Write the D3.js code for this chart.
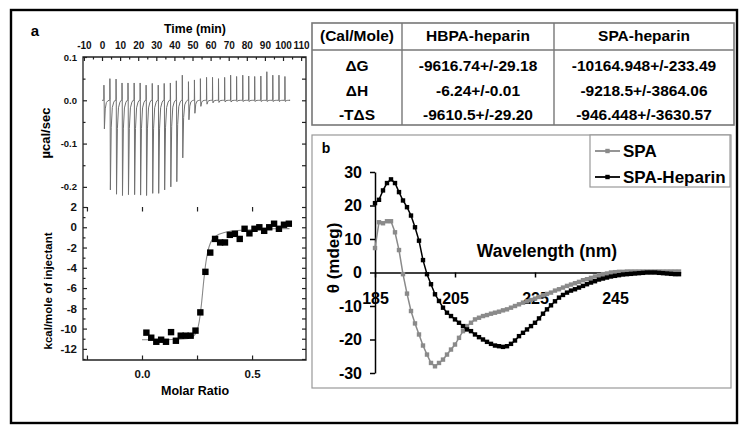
<!DOCTYPE html>
<html><head><meta charset="utf-8">
<script src="https://cdn.jsdelivr.net/npm/d3@7"></script>
<style>
body{margin:0;background:#fff}
svg{display:block;font-family:Arial,"Liberation Sans",sans-serif;font-weight:bold}
</style>
</head><body><svg id="c" width="750" height="433"></svg>
<script>
// ---------- Panel a : ITC raw thermogram ----------
const injTimes = [1.0, 4.3, 7.7, 11.0, 14.3, 17.7, 21.0, 24.3, 27.7, 31.0, 34.3, 37.7, 41.0, 44.3, 47.7, 51.0,
  54.3, 57.7, 61.0, 64.3, 67.7, 71.0, 74.3, 77.7, 81.0, 84.3, 87.7, 91.0, 94.3, 97.7, 101.0];
const injUp = [0.035, 0.05, 0.049, 0.04, 0.04, 0.04, 0.04, 0.035, 0.039, 0.035, 0.039, 0.04, 0.045, 0.058, 0.043, 0.047,
  0.05, 0.053, 0.053, 0.05, 0.053, 0.058, 0.055, 0.058, 0.056, 0.055, 0.056, 0.066, 0.058, 0.058, 0.055];
const injDown = [-0.066, -0.207, -0.217, -0.22, -0.218, -0.218, -0.219, -0.22, -0.215, -0.215, -0.207, -0.2, -0.188, -0.133, -0.045, -0.03,
  -0.014, -0.009, -0.006, -0.005, -0.004, -0.004, -0.003, -0.003, -0.003, -0.003, -0.003, -0.003, -0.003, -0.003, -0.003];
const timeTicks = [-10, 0, 10, 20, 30, 40, 50, 60, 70, 80, 90, 100, 110];
const powerTicks = [0.1, 0.0, -0.1, -0.2];

// ---------- Panel a : integrated heats ----------
const molarRatio = [0.020, 0.042, 0.065, 0.087, 0.109, 0.132, 0.154, 0.176, 0.198, 0.221, 0.243, 0.265, 0.288, 0.310, 0.332,
  0.355, 0.377, 0.399, 0.422, 0.444, 0.466, 0.488, 0.511, 0.533, 0.555, 0.578, 0.600, 0.622, 0.645, 0.667];
const heatPerInj = [-10.4, -10.9, -11.3, -11.1, -11.3, -10.35, -11.2, -10.7, -10.7, -10.7, -10.2, -8.4, -4.4, -2.5, -1.15,
  -1.5, -1.5, -0.75, -0.65, -1.15, -0.15, -0.6, -0.15, 0.0, -0.35, 0.0, 0.35, -0.15, 0.25, 0.35];
const fitRatio = [0.0, 0.05, 0.1, 0.15, 0.2, 0.22, 0.24, 0.25, 0.26, 0.27, 0.28, 0.29, 0.30, 0.31, 0.32, 0.34, 0.37, 0.40, 0.45, 0.50, 0.55, 0.60, 0.67];
const fitHeat = [-11.1, -11.1, -11.1, -11.05, -11.0, -10.9, -10.6, -10.2, -9.3, -7.6, -5.4, -3.5, -2.3, -1.6, -1.2, -0.8, -0.55, -0.4, -0.3, -0.22, -0.18, -0.15, -0.13];
const ratioTicks = [0.0, 0.5];
const heatTicks = [2, 0, -2, -4, -6, -8, -10, -12];

// ---------- Table ----------
const tableHeader = ["(Cal/Mole)", "HBPA-heparin", "SPA-heparin"];
const rowLabels = ["ΔG", "ΔH", "-TΔS"];
const hbpaValues = ["-9616.74+/-29.18", "-6.24+/-0.01", "-9610.5+/-29.20"];
const spaValues = ["-10164.948+/-233.49", "-9218.5+/-3864.06", "-946.448+/-3630.57"];

// ---------- Panel b : CD spectra ----------
const wavelength = d3.range(185, 262);
const spa = [7.3, 15, 14.7, 15.3, 15.3, 12, 6.7, -0.5, -6.3, -11.5, -15.2, -18.5, -21.8, -24.5, -27, -28, -27, -26, -24.5, -23,
  -21.5, -19.5, -17.5, -16, -15, -14, -13.5, -13, -12.7, -12.3, -12, -11.7, -11.3, -11, -10.5, -10, -9.5, -9, -8.6, -8.2,
  -7.8, -7.3, -6.8, -6.4, -6, -5.4, -5, -4.5, -4, -3.6, -3.2, -2.8, -2.3, -2, -1.6, -1.2, -0.8, -0.5, -0.3, 0,
  0.1, 0.2, 0.2, 0.3, 0.3, 0.3, 0.3, 0.3, 0.3, 0.3, 0.3, 0.3, 0.3, 0.3, 0.3, 0.3, 0.3];
const spaHeparin = [20.7, 21.7, 24.5, 26.7, 27.8, 26.7, 24, 21.5, 19.5, 17, 13.5, 9.5, 3.7, -0.5, -3.5, -6.5, -8.5, -10.5, -12, -13,
  -14, -15, -16, -17, -17.5, -18.5, -19.3, -20, -20.7, -21.3, -21.8, -22, -22.2, -22, -21.3, -20.3, -19, -18, -17, -16,
  -15, -13.7, -12.3, -11, -9.8, -8.6, -7.5, -6.7, -6, -5.4, -5, -4.5, -4, -3.5, -3, -2.6, -2.1, -1.8, -1.5, -1.2,
  -1, -0.8, -0.6, -0.5, -0.4, -0.3, -0.2, -0.1, 0, 0, 0, -0.1, -0.2, -0.3, -0.4, -0.5, -0.5];
const cdXTicks = [185, 205, 225, 245];
const cdYTicks = [30, 20, 10, 0, -10, -20, -30];
const seriesNames = ["SPA", "SPA-Heparin"];
const seriesColors = ["#8a8a8a", "#000000"];

const svg = d3.select("#c");

// outer frame
svg.append("rect").attr("x", 11).attr("y", 10).attr("width", 726).attr("height", 413)
  .attr("fill", "none").attr("stroke", "#000").attr("stroke-width", 2.4);

// ===== Panel a =====
const L = 83, R = 306, T1 = 57, B1 = 207, B2 = 360;
const xT = d3.scaleLinear().domain([-10.5, 112.7]).range([L, R]);
const yT = d3.scaleLinear().domain([-0.2465, 0.1]).range([B1, T1]);
const xM = d3.scaleLinear().domain([-0.268, 0.745]).range([L, R]);
const yM = d3.scaleLinear().domain([-13.1, 2]).range([B2, B1]);

svg.append("text").attr("x", 35).attr("y", 36).attr("font-size", 15).attr("text-anchor", "middle").text("a");

function styleAxis(g, fs) {
  g.select(".domain").remove();
  g.selectAll(".tick line").attr("stroke", "#222").attr("stroke-width", 1.2);
  g.selectAll(".tick text").attr("font-size", fs).attr("font-weight", "bold")
    .attr("font-family", "Arial, 'Liberation Sans', sans-serif").attr("fill", "#111");
}

// top thermogram axes
const gTop = svg.append("g").attr("transform", `translate(0,${T1})`)
  .call(d3.axisTop(xT).tickValues(timeTicks).tickSize(-4).tickPadding(8).tickFormat(d => d));
styleAxis(gTop, 10);
const gTopMinor = svg.append("g").attr("transform", `translate(0,${T1})`)
  .call(d3.axisTop(xT).tickValues(timeTicks.slice(0, -1).map((d, i) => (d + timeTicks[i + 1]) / 2)).tickSize(-2.5).tickFormat(""));
styleAxis(gTopMinor, 9);
const gTL = svg.append("g").attr("transform", `translate(${L},0)`)
  .call(d3.axisLeft(yT).tickValues(powerTicks).tickSize(-4).tickPadding(6).tickFormat(d => d.toFixed(1)));
styleAxis(gTL, 9.5);
const gTLm = svg.append("g").attr("transform", `translate(${L},0)`)
  .call(d3.axisLeft(yT).tickValues([0.05, -0.05, -0.15]).tickSize(-2.5).tickFormat(""));
styleAxis(gTLm, 9);
const gTR = svg.append("g").attr("transform", `translate(${R},0)`)
  .call(d3.axisRight(yT).tickValues(powerTicks.concat([0.05, -0.05, -0.15])).tickSize(-4).tickFormat(""));
styleAxis(gTR, 9);

// thermogram trace
const trace = [[0, 0]];
injTimes.forEach((t, i) => {
  const dn = injDown[i];
  trace.push([t, 0], [t + 0.06, injUp[i]], [t + 0.18, 0.002], [t + 0.32, dn], [t + 0.8, dn * 0.3],
    [t + 1.4, dn * 0.08], [t + 2.2, dn * 0.02], [t + 2.9, 0]);
});
trace.push([103.5, 0]);
svg.append("path").datum(trace)
  .attr("d", d3.line().x(d => xT(d[0])).y(d => yT(d[1])))
  .attr("fill", "none").attr("stroke", "#707070").attr("stroke-width", 1);

svg.append("text").attr("x", 195).attr("y", 33).attr("font-size", 12.3).attr("text-anchor", "middle").text("Time (min)");
svg.append("text").attr("transform", "translate(50,133) rotate(-90)").attr("font-size", 13)
  .attr("text-anchor", "middle").text("µcal/sec");

// bottom integrated-heat axes
const gMB = svg.append("g").attr("transform", `translate(0,${B2})`)
  .call(d3.axisBottom(xM).tickValues(ratioTicks).tickSize(-4.5).tickPadding(10).tickFormat(d => d.toFixed(1)));
styleAxis(gMB, 11.5);
const gMBm = svg.append("g").attr("transform", `translate(0,${B2})`)
  .call(d3.axisBottom(xM).tickValues([-0.25, 0.25]).tickSize(-4.5).tickFormat(""));
styleAxis(gMBm, 9);
const gMT = svg.append("g").attr("transform", `translate(0,${B1})`)
  .call(d3.axisTop(xM).tickValues([-0.25, 0, 0.25, 0.5]).tickSize(-4.5).tickFormat(""));
styleAxis(gMT, 9);
const gML = svg.append("g").attr("transform", `translate(${L},0)`)
  .call(d3.axisLeft(yM).tickValues(heatTicks).tickSize(-4).tickPadding(6).tickFormat(d => d));
styleAxis(gML, 11.5);
const gMLm = svg.append("g").attr("transform", `translate(${L},0)`)
  .call(d3.axisLeft(yM).tickValues([1, -1, -3, -5, -7, -9, -11, -13]).tickSize(-2.5).tickFormat(""));
styleAxis(gMLm, 9);
const gMR = svg.append("g").attr("transform", `translate(${R},0)`)
  .call(d3.axisRight(yM).tickValues(heatTicks.concat([1, -1, -3, -5, -7, -9, -11, -13])).tickSize(-4).tickFormat(""));
styleAxis(gMR, 9);

// frames
svg.append("path").attr("d", `M${L},${B1}V${T1}H${R}V${B1}`).attr("fill", "none").attr("stroke", "#222").attr("stroke-width", 1.3);
svg.append("path").attr("d", `M${L},${B1}V${B2}H${R}V${B1}`).attr("fill", "none").attr("stroke", "#222").attr("stroke-width", 1.3);

// fit curve
svg.append("path").datum(fitRatio.map((r, i) => [r, fitHeat[i]]))
  .attr("d", d3.line().x(d => xM(d[0])).y(d => yM(d[1])).curve(d3.curveMonotoneX))
  .attr("fill", "none").attr("stroke", "#888").attr("stroke-width", 1.1);
// points
svg.append("g").selectAll("rect").data(molarRatio.map((r, i) => [r, heatPerInj[i]])).join("rect")
  .attr("x", d => xM(d[0]) - 3.2).attr("y", d => yM(d[1]) - 3.2).attr("width", 6.4).attr("height", 6.4).attr("fill", "#000");

svg.append("text").attr("x", 195).attr("y", 395).attr("font-size", 12.5).attr("text-anchor", "middle").text("Molar Ratio");
svg.append("text").attr("transform", "translate(52,291) rotate(-90)").attr("font-size", 11.5)
  .attr("text-anchor", "middle").text("kcal/mole of injectant");

// ===== Table =====
const colX = [312, 402, 554, 734];
const tTop = 23, tHead = 50, tBot = 125;
const rowY = [65.5, 90.5, 115];
const tg = svg.append("g");
tg.append("rect").attr("x", colX[0]).attr("y", tTop).attr("width", colX[3] - colX[0]).attr("height", tBot - tTop)
  .attr("fill", "none").attr("stroke", "#777").attr("stroke-width", 1.6);
tg.append("line").attr("x1", colX[0]).attr("x2", colX[3]).attr("y1", tHead).attr("y2", tHead).attr("stroke", "#777").attr("stroke-width", 1.4);
[colX[1], colX[2]].forEach(x => tg.append("line").attr("x1", x).attr("x2", x).attr("y1", tTop).attr("y2", tBot)
  .attr("stroke", "#777").attr("stroke-width", 1.4));
const colC = [0, 1, 2].map(i => (colX[i] + colX[i + 1]) / 2);
tableHeader.forEach((h, i) => tg.append("text").attr("x", colC[i]).attr("y", 36).attr("dy", "0.35em")
  .attr("text-anchor", "middle").attr("font-size", 15.5).text(h));
rowLabels.forEach((lab, r) => {
  [lab, hbpaValues[r], spaValues[r]].forEach((v, c) => tg.append("text").attr("x", colC[c]).attr("y", rowY[r])
    .attr("dy", "0.35em").attr("text-anchor", "middle").attr("font-size", 15.5).text(v));
});

// ===== Panel b =====
svg.append("rect").attr("x", 312).attr("y", 135).attr("width", 419).attr("height", 253)
  .attr("fill", "none").attr("stroke", "#999").attr("stroke-width", 1.2);
svg.append("text").attr("x", 326).attr("y", 153).attr("font-size", 14).attr("text-anchor", "middle").text("b");

const xC = d3.scaleLinear().domain([185, 261]).range([375, 679]);
const yC = d3.scaleLinear().domain([-30, 30]).range([373, 172]);

const gCY = svg.append("g").attr("transform", `translate(${xC(185)},0)`)
  .call(d3.axisLeft(yC).tickValues(cdYTicks).tickSize(5).tickSizeOuter(0).tickPadding(8).tickFormat(d => d));
gCY.select(".domain").attr("stroke", "#000").attr("stroke-width", 1.5);
gCY.selectAll(".tick line").attr("stroke", "#000").attr("stroke-width", 1.5);
gCY.selectAll(".tick text").attr("font-size", 16).attr("font-weight", "bold").attr("fill", "#000")
  .attr("font-family", "Arial, 'Liberation Sans', sans-serif");

const gCX = svg.append("g").attr("transform", `translate(0,${yC(0)})`)
  .call(d3.axisBottom(xC).tickValues(cdXTicks).tickSize(5).tickSizeOuter(0).tickPadding(15).tickFormat(d => d));
gCX.select(".domain").attr("stroke", "#000").attr("stroke-width", 1.5);
gCX.selectAll(".tick line").attr("stroke", "#000").attr("stroke-width", 1.5);
gCX.selectAll(".tick text").attr("font-size", 16).attr("font-weight", "bold").attr("fill", "#000")
  .attr("font-family", "Arial, 'Liberation Sans', sans-serif");

svg.append("text").attr("x", 547).attr("y", 257).attr("font-size", 17.5).attr("text-anchor", "middle").text("Wavelength (nm)");
svg.append("text").attr("transform", "translate(339,258) rotate(-90)").attr("font-size", 17)
  .attr("text-anchor", "middle").text("θ (mdeg)");

const cdSeries = [spa, spaHeparin];
cdSeries.forEach((vals, si) => {
  const pts = wavelength.map((w, i) => [w, vals[i]]);
  const g = svg.append("g");
  g.append("path").datum(pts).attr("d", d3.line().x(d => xC(d[0])).y(d => yC(d[1])))
    .attr("fill", "none").attr("stroke", seriesColors[si]).attr("stroke-width", 1.5);
  g.selectAll("rect").data(pts).join("rect")
    .attr("x", d => xC(d[0]) - 2.2).attr("y", d => yC(d[1]) - 2.2).attr("width", 4.4).attr("height", 4.4)
    .attr("fill", seriesColors[si]);
});

// legend
const lg = svg.append("g");
lg.append("rect").attr("x", 590).attr("y", 135).attr("width", 140).attr("height", 52)
  .attr("fill", "#fff").attr("stroke", "#999").attr("stroke-width", 1.2);
seriesNames.forEach((n, i) => {
  const y = 151 + i * 26;
  lg.append("line").attr("x1", 595).attr("x2", 620).attr("y1", y).attr("y2", y)
    .attr("stroke", seriesColors[i]).attr("stroke-width", 1.8);
  lg.append("rect").attr("x", 605.3).attr("y", y - 2.2).attr("width", 4.4).attr("height", 4.4).attr("fill", seriesColors[i]);
  lg.append("text").attr("x", 623).attr("y", y).attr("dy", "0.36em").attr("font-size", 17).text(n);
});
</script>
</body></html>
